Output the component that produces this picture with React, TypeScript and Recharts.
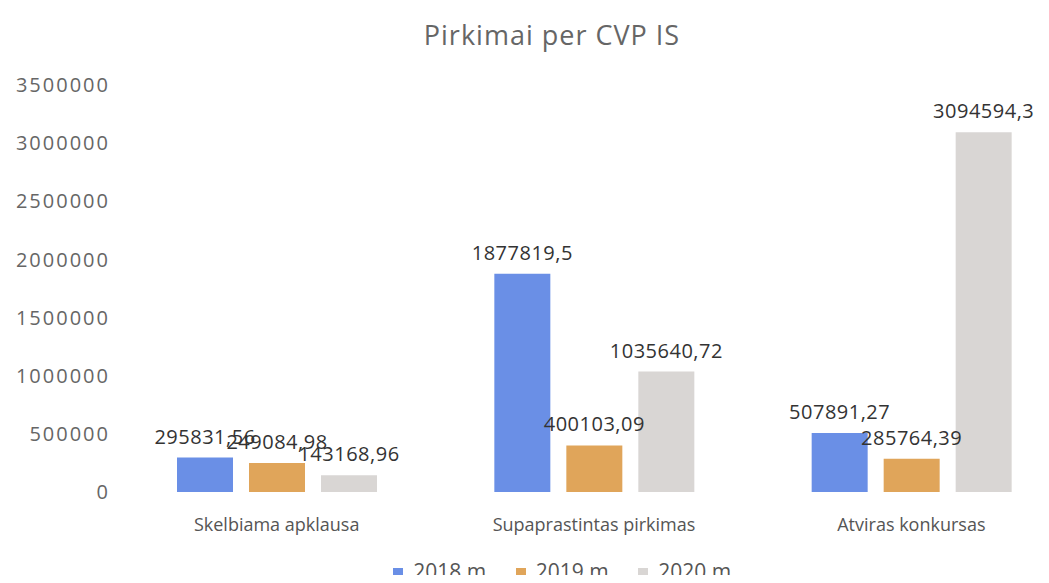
import React from 'react';
import { BarChart, Bar, XAxis, YAxis, Legend, LabelList } from 'recharts';

const categories = ['Skelbiama apklausa', 'Supaprastintas pirkimas', 'Atviras konkursas'];
const values2018 = [295831.56, 1877819.5, 507891.27];
const values2019 = [249084.98, 400103.09, 285764.39];
const values2020 = [143168.96, 1035640.72, 3094594.3];
const yTicks = [0, 500000, 1000000, 1500000, 2000000, 2500000, 3000000, 3500000];

const series = [
  { key: 'y2018', name: '2018 m.', color: '#6a8fe6' },
  { key: 'y2019', name: '2019 m.', color: '#e0a55a' },
  { key: 'y2020', name: '2020 m.', color: '#d9d6d4' },
];

const data = categories.map((name, i) => ({
  name,
  y2018: values2018[i],
  y2019: values2019[i],
  y2020: values2020[i],
}));

const FONT = '"Open Sans", "Noto Sans", sans-serif';

const fmt = (v: number) => String(v).replace('.', ',');

const LegendContent = ({ payload }: any) => (
  <div
    style={{
      display: 'flex',
      justifyContent: 'center',
      gap: 24,
      paddingLeft: 60,
      fontSize: 21,
      fontFamily: FONT,
      color: '#555',
      lineHeight: '28px',
    }}
  >
    {(payload || []).map((entry: any) => (
      <div key={entry.value} style={{ display: 'flex', alignItems: 'center' }}>
        <span
          style={{
            display: 'inline-block',
            width: 10,
            height: 10,
            background: entry.color,
            marginRight: 10,
            marginTop: 4,
          }}
        />
        {entry.value}
      </div>
    ))}
  </div>
);

export default function App() {
  return (
    <div
      style={{
        position: 'relative',
        margin: -8,
        width: 1049,
        height: 583,
        overflow: 'hidden',
        background: '#fff',
        fontFamily: FONT,
      }}
    >
      <div
        style={{
          position: 'absolute',
          top: 16,
          left: 0,
          width: 1104,
          textAlign: 'center',
          fontSize: 27,
          color: '#666',
          letterSpacing: 1,
        }}
      >
        Pirkimai per CVP IS
      </div>
      <BarChart
        width={1090}
        height={583}
        data={data}
        margin={{ top: 85, right: 20, bottom: 13, left: 0 }}
        barSize={56}
        barGap={16}
      >
        <XAxis
          dataKey="name"
          axisLine={false}
          tickLine={false}
          tickMargin={20}
          height={50}
          tick={{ fill: '#555', fontSize: 18, fontFamily: FONT }}
        />
        <YAxis
          width={118}
          domain={[0, 3500000]}
          ticks={yTicks}
          axisLine={false}
          tickLine={false}
          interval={0}
          tick={{ fill: '#666', fontSize: 20, fontFamily: FONT, letterSpacing: 2 }}
        />
        <Legend
          verticalAlign="bottom"
          content={<LegendContent />}
          wrapperStyle={{ top: 557 }}
        />
        {series.map((s) => (
          <Bar key={s.key} dataKey={s.key} name={s.name} fill={s.color} isAnimationActive={false}>
            <LabelList
              dataKey={s.key}
              position="top"
              offset={14}
              formatter={(v: any) => fmt(Number(v))}
              style={{ fill: '#333', fontSize: 20, fontFamily: FONT, letterSpacing: 0.5 }}
            />
          </Bar>
        ))}
      </BarChart>
    </div>
  );
}
